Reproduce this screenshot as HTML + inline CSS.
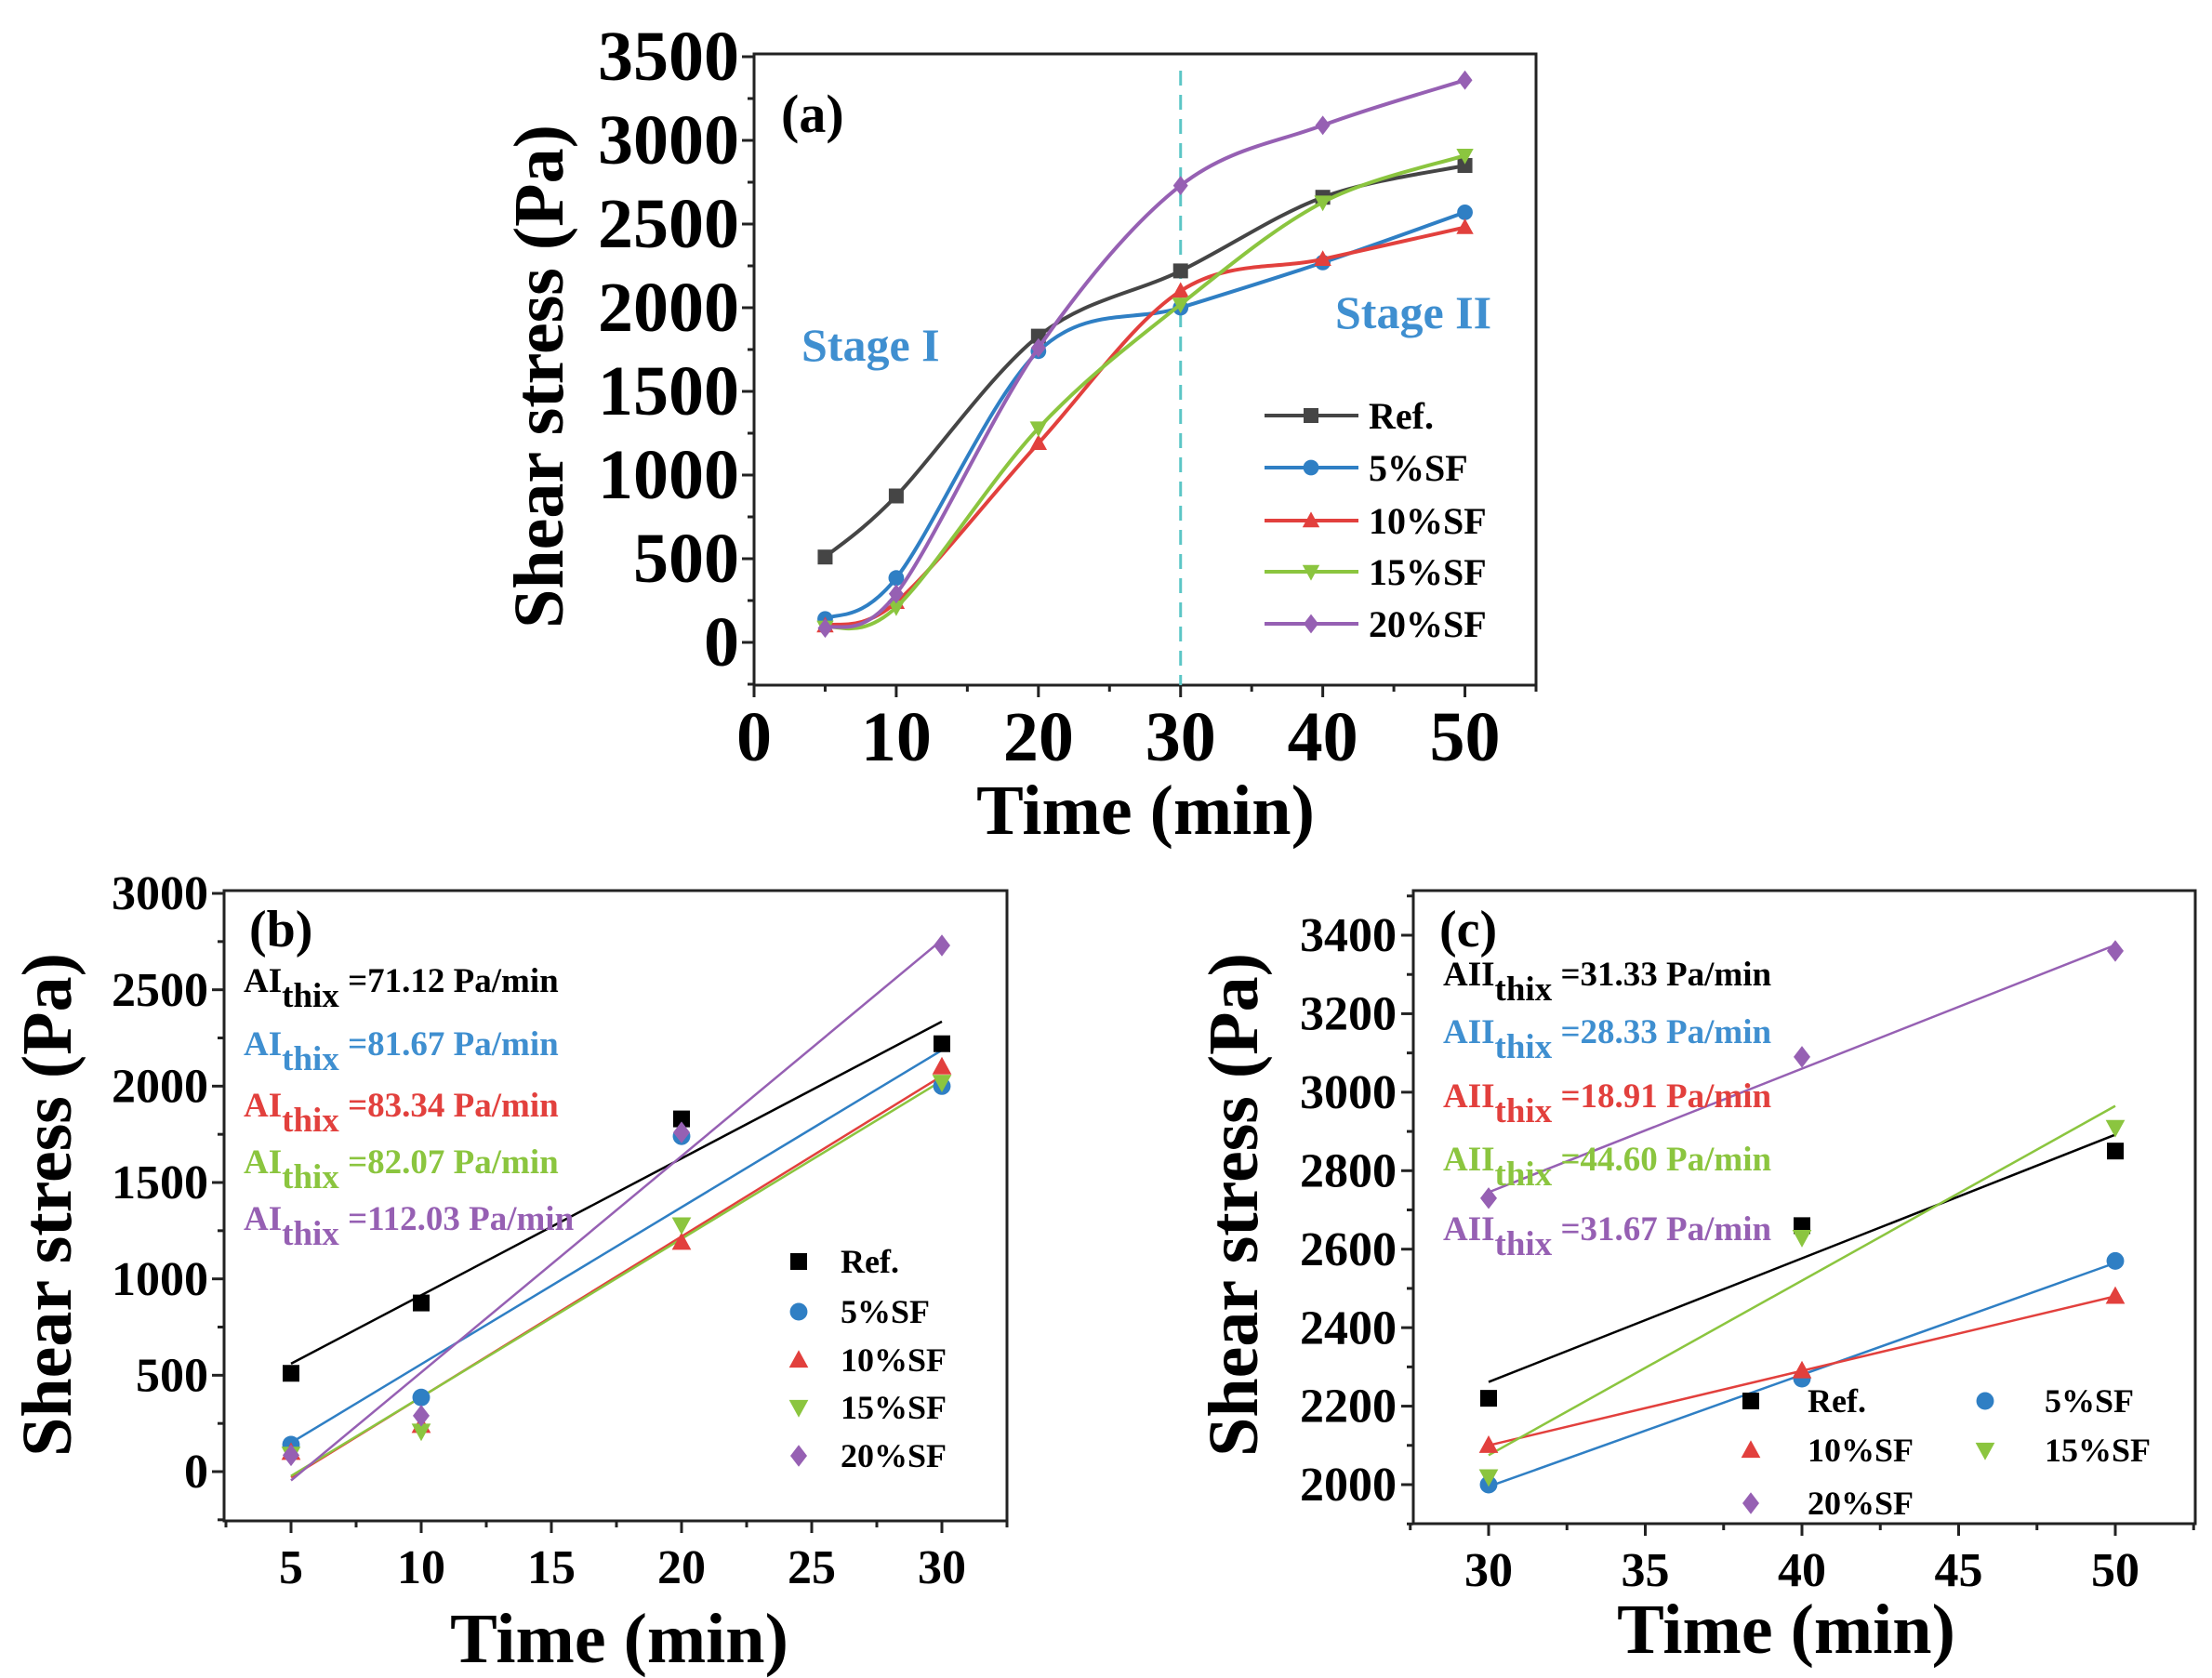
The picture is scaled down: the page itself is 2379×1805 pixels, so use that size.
<!DOCTYPE html>
<html><head><meta charset="utf-8"><style>
html,body{margin:0;padding:0;background:#fff}
svg{display:block}
text{font-family:"Liberation Serif",serif;font-weight:bold}
</style></head><body>
<svg id="fig" width="2379" height="1805" viewBox="0 0 2379 1805" xmlns="http://www.w3.org/2000/svg"></svg>
<script>
// ---- data ----
const times = [5, 10, 20, 30, 40, 50];
const seriesNames = ["Ref.", "5%SF", "10%SF", "15%SF", "20%SF"];
const refVals = [510, 875, 1830, 2220, 2660, 2850];
const sf5Vals = [140, 385, 1740, 2000, 2270, 2570];
const sf10Vals = [100, 240, 1190, 2100, 2290, 2480];
const sf15Vals = [90, 210, 1280, 2020, 2630, 2910];
const sf20Vals = [85, 290, 1760, 2730, 3090, 3360];
const slopesB = ["71.12", "81.67", "83.34", "82.07", "112.03"];
const slopesC = ["31.33", "28.33", "18.91", "44.60", "31.67"];
const xTicksA = [0, 10, 20, 30, 40, 50];
const yTicksA = [0, 500, 1000, 1500, 2000, 2500, 3000, 3500];
const xTicksB = [5, 10, 15, 20, 25, 30];
const yTicksB = [0, 500, 1000, 1500, 2000, 2500, 3000];
const xTicksC = [30, 35, 40, 45, 50];
const yTicksC = [2000, 2200, 2400, 2600, 2800, 3000, 3200, 3400];

const allVals = [refVals, sf5Vals, sf10Vals, sf15Vals, sf20Vals];
const colorsLine = ["#454545", "#2f7fc4", "#e2403d", "#8bc53f", "#9660b3"];
const colorsPts = ["#000000", "#2f7fc4", "#e2403d", "#8bc53f", "#9660b3"];
const textColors = ["#000000", "#3f8fd0", "#e2403d", "#8bc53f", "#9660b3"];
const markers = ["square", "circle", "up", "down", "diamond"];

const NS = "http://www.w3.org/2000/svg";
const svg = document.getElementById("fig");
function mk(tag, attrs, parent) {
  const e = document.createElementNS(NS, tag);
  for (const k in attrs) e.setAttribute(k, attrs[k]);
  (parent || svg).appendChild(e);
  return e;
}
function marker(kind, cx, cy, s, color, parent) {
  let e;
  if (kind === "square") e = mk("rect", {x: cx - s, y: cy - s, width: 2 * s, height: 2 * s, fill: color}, parent);
  else if (kind === "circle") e = mk("circle", {cx: cx, cy: cy, r: s * 1.05, fill: color}, parent);
  else if (kind === "up") e = mk("polygon", {points: `${cx},${cy - s * 1.2} ${cx + s * 1.15},${cy + s * 0.9} ${cx - s * 1.15},${cy + s * 0.9}`, fill: color}, parent);
  else if (kind === "down") e = mk("polygon", {points: `${cx},${cy + s * 1.2} ${cx + s * 1.15},${cy - s * 0.9} ${cx - s * 1.15},${cy - s * 0.9}`, fill: color}, parent);
  else e = mk("polygon", {points: `${cx},${cy - s * 1.3} ${cx + s * 1.0},${cy} ${cx},${cy + s * 1.3} ${cx - s * 1.0},${cy}`, fill: color}, parent);
  return e;
}
function axes(g, cfg) {
  const {L, R, T, B, xs, ys, xt, yt, xMinor, yMinor, xmin, xmax, ymin, ymax, fs, yLabelX, xLabelY} = cfg;
  const f = mk("rect", {x: L, y: T, width: R - L, height: B - T, fill: "none", stroke: "#222", "stroke-width": 3}, g);
  
  
  for (let v = Math.ceil(xmin / xMinor) * xMinor; v <= xmax + 1e-9; v += xMinor) {
    const major = xt.some(t => Math.abs(t - v) < 1e-9);
    mk("line", {x1: xs(v), x2: xs(v), y1: B, y2: B + (major ? 13 : 7), stroke: "#222", "stroke-width": 3}, g);
  }
  for (let v = Math.ceil(ymin / yMinor) * yMinor; v <= ymax + 1e-9; v += yMinor) {
    const major = yt.some(t => Math.abs(t - v) < 1e-9);
    mk("line", {x1: L, x2: L - (major ? 13 : 7), y1: ys(v), y2: ys(v), stroke: "#222", "stroke-width": 3}, g);
  }
  xt.forEach(v => {
    const t = mk("text", {x: xs(v), y: xLabelY, "text-anchor": "middle", "font-size": fs}, g);
    t.textContent = v;
    
    
  });
  yt.forEach(v => {
    const t = mk("text", {x: yLabelX, y: ys(v) + fs * 0.33, "text-anchor": "end", "font-size": fs}, g);
    t.textContent = v;
    
    
  });
}
function title(g, txt, x, y, fs, rot, name) {
  const t = mk("text", {x: x, y: y, "text-anchor": "middle", "font-size": fs, transform: rot ? `rotate(-90 ${x} ${y})` : ""}, g);
  t.textContent = txt;
  
  
}
function spline(pts) {
  let d = `M${pts[0][0]},${pts[0][1]}`;
  for (let i = 0; i < pts.length - 1; i++) {
    const p0 = pts[Math.max(0, i - 1)], p1 = pts[i], p2 = pts[i + 1], p3 = pts[Math.min(pts.length - 1, i + 2)];
    const c1 = [p1[0] + (p2[0] - p0[0]) / 6, p1[1] + (p2[1] - p0[1]) / 6];
    const c2 = [p2[0] - (p3[0] - p1[0]) / 6, p2[1] - (p3[1] - p1[1]) / 6];
    d += ` C${c1[0]},${c1[1]} ${c2[0]},${c2[1]} ${p2[0]},${p2[1]}`;
  }
  return d;
}
function fit(xv, yv) {
  const n = xv.length, mx = xv.reduce((a, b) => a + b) / n, my = yv.reduce((a, b) => a + b) / n;
  let sxy = 0, sxx = 0;
  for (let i = 0; i < n; i++) { sxy += (xv[i] - mx) * (yv[i] - my); sxx += (xv[i] - mx) ** 2; }
  const m = sxy / sxx; return [m, my - m * mx];
}

// ---- Panel A ----
(function () {
  const g = mk("g", {});
  
  
  const xs = v => 811 + v * (1652 - 811) / 55;
  const ys = v => 691 - v * 0.18;
  axes(g, {L: 811, R: 1652, T: 58, B: 737, xs, ys, xt: xTicksA, yt: yTicksA, xMinor: 5, yMinor: 250, xmin: 0, xmax: 55, ymin: -250, ymax: 3500, fs: 76, yLabelX: 795, xLabelY: 818});
  title(g, "Shear stress (Pa)", 605, 405, 76, true, "y-axis-title");
  title(g, "Time (min)", 1232, 897, 76, false, "x-axis-title");
  const dl = mk("line", {x1: xs(30), x2: xs(30), y1: 76, y2: 737, stroke: "#5cc6c6", "stroke-width": 3, "stroke-dasharray": "16,10"}, g);
  
  
  allVals.forEach((vals, si) => {
    const pts = times.map((t, i) => [xs(t), ys(vals[i])]);
    const p = mk("path", {d: spline(pts), fill: "none", stroke: colorsLine[si], "stroke-width": 4}, g);
    
    
    pts.forEach(pt => {
      const m = marker(markers[si], pt[0], pt[1], 8, colorsLine[si], g);
      
      
    });
  });
  const rows = [447, 503, 560, 615, 671];
  seriesNames.forEach((n, si) => {
    mk("line", {x1: 1360, x2: 1461, y1: rows[si], y2: rows[si], stroke: colorsLine[si], "stroke-width": 4}, g);
    const m = marker(markers[si], 1410, rows[si], 8, colorsLine[si], g);
    
    
    const t = mk("text", {x: 1472, y: rows[si] + 14, "font-size": 40}, g);
    t.textContent = n;
    
    
  });
  const s1 = mk("text", {x: 862, y: 388, "font-size": 50, fill: "#3f8fd0"}, g); s1.textContent = "Stage I";
   
  const s2 = mk("text", {x: 1436, y: 353, "font-size": 50, fill: "#3f8fd0"}, g); s2.textContent = "Stage II";
   
  const pl = mk("text", {x: 840, y: 142, "font-size": 58}, g); pl.textContent = "(a)";
   
})();

function linPanel(cfg) {
  const g = mk("g", {});
  
  
  const {xs, ys} = cfg;
  axes(g, cfg);
  title(g, "Shear stress (Pa)", cfg.ytx, 1296, 76, true, "y-axis-title");
  title(g, "Time (min)", cfg.xtx, cfg.xty, 76, false, "x-axis-title");
  const idx = cfg.idx, xv = idx.map(i => times[i]);
  allVals.forEach((vals, si) => {
    const yv = idx.map(i => vals[i]);
    const [m, b] = fit(xv, yv);
    const x0 = xv[0], x1 = xv[xv.length - 1];
    const l = mk("line", {x1: xs(x0), y1: ys(m * x0 + b), x2: xs(x1), y2: ys(m * x1 + b), stroke: colorsPts[si], "stroke-width": 2.5}, g);
    
    
  });
  allVals.forEach((vals, si) => {
    idx.forEach(i => {
      const mm = marker(markers[si], xs(times[i]), ys(vals[i]), 9, colorsPts[si], g);
      
      
    });
  });
  cfg.annRows.forEach((y, si) => {
    const t = mk("text", {x: cfg.annX, y: y + 12, "font-size": 37, fill: textColors[si]}, g);
    
    
    const a = mk("tspan", {}, t); a.textContent = cfg.prefix;
    const s = mk("tspan", {dy: 16, "font-size": 37}, t); s.textContent = "thix";
    const r = mk("tspan", {dy: -16}, t); r.textContent = " =" + cfg.slopes[si] + " Pa/min";
  });
  cfg.leg.forEach((p, si) => {
    const mm = marker(markers[si], p[0], p[1], 9, colorsPts[si], g);
    
    
    const t = mk("text", {x: p[2], y: p[1] + 12, "font-size": 36}, g);
    t.textContent = seriesNames[si];
    
    
  });
  const pl = mk("text", {x: cfg.plx, y: 1018, "font-size": 56}, g); pl.textContent = cfg.label;
   
}

linPanel({name: "panel-b", label: "(b)", plx: 268, L: 241, R: 1083, T: 958, B: 1636,
  xs: v => 313 + (v - 5) * 28, ys: v => 1583 - v * 0.20733,
  xt: xTicksB, yt: yTicksB, xMinor: 2.5, yMinor: 250, xmin: 2.5, xmax: 32.5, ymin: -250, ymax: 3000,
  fs: 52, yLabelX: 224, xLabelY: 1703, ytx: 76, xtx: 666, xty: 1788,
  idx: [0, 1, 2, 3], prefix: "AI", slopes: slopesB, annX: 262, annRows: [1055, 1123, 1189, 1250, 1311],
  leg: [[859, 1357, 904], [859, 1411, 904], [859, 1463, 904], [859, 1514, 904], [859, 1566, 904]]});

linPanel({name: "panel-c", label: "(c)", plx: 1548, L: 1520, R: 2361, T: 958, B: 1639,
  xs: v => 1601 + (v - 30) * 33.7, ys: v => 1597 - (v - 2000) * 0.42214,
  xt: xTicksC, yt: yTicksC, xMinor: 2.5, yMinor: 100, xmin: 27.5, xmax: 52.5, ymin: 1900, ymax: 3500,
  fs: 52, yLabelX: 1502, xLabelY: 1706, ytx: 1352, xtx: 1921, xty: 1778,
  idx: [3, 4, 5], prefix: "AII", slopes: slopesC, annX: 1552, annRows: [1048, 1110, 1179, 1247, 1322],
  leg: [[1883, 1507, 1944], [2135, 1507, 2199], [1883, 1560, 1944], [2135, 1560, 2199], [1883, 1617, 1944]]});
</script>
</body></html>
